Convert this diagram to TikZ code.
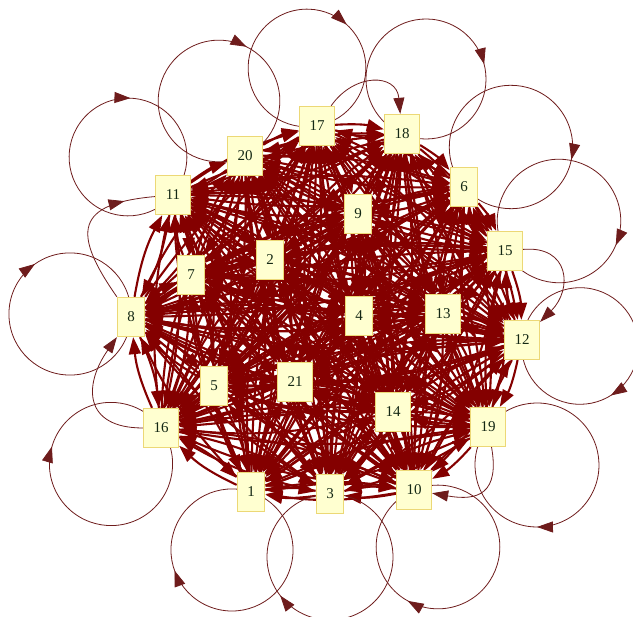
\documentclass[tikz,border=0pt]{standalone}
\usepackage{fontspec}
\setmainfont{Liberation Serif}
\usetikzlibrary{arrows.meta,calc,backgrounds,decorations.markings}
\definecolor{edgered}{RGB}{132,0,0}
\definecolor{loopred}{RGB}{110,28,28}
\definecolor{boxfill}{RGB}{255,255,208}
\definecolor{boxline}{RGB}{236,216,118}
\begin{document}
\begin{tikzpicture}[x=1pt,y=1pt,
  vtx/.style={draw=boxline,line width=1.3pt,fill=boxfill,rectangle,
    minimum width=27pt,minimum height=39pt,inner xsep=10pt,
    font=\fontsize{15}{17}\selectfont,text={rgb,255:red,20;green,40;blue,20}},
  edge/.style={edgered,line width=2.1pt,bend left=9,-{Triangle[length=17pt,width=12pt]}},
  loopline/.style={loopred,line width=0.8pt},
  midarrow/.style={postaction=decorate,decoration={markings,
    mark=at position #1 with {\arrow{Triangle[length=16pt,width=11pt]}}}},
  selfloop/.style={loopline,midarrow=0.645},
  arcedge/.style={loopline,-{Triangle[length=16pt,width=11pt]}}]
\useasboundingbox (0,0) rectangle (633,617);
\node[vtx] (v17) at (317,491) {17};
\node[vtx] (v18) at (402,483) {18};
\node[vtx] (v20) at (245,461) {20};
\node[vtx] (v6) at (464,430) {6};
\node[vtx] (v11) at (173,422) {11};
\node[vtx] (v9) at (358,403) {9};
\node[vtx] (v15) at (505,366) {15};
\node[vtx] (v2) at (270,357) {2};
\node[vtx] (v7) at (191,342) {7};
\node[vtx] (v8) at (131,300) {8};
\node[vtx] (v4) at (359,301) {4};
\node[vtx] (v13) at (443,303) {13};
\node[vtx] (v12) at (522,277) {12};
\node[vtx] (v5) at (214,231) {5};
\node[vtx] (v21) at (295,235) {21};
\node[vtx] (v14) at (393,205) {14};
\node[vtx] (v16) at (161,189) {16};
\node[vtx] (v19) at (488,190) {19};
\node[vtx] (v1) at (251,125) {1};
\node[vtx] (v3) at (330,123) {3};
\node[vtx] (v10) at (414,127) {10};
\begin{scope}[on background layer]
\foreach \i in {1,...,21}
  \foreach \j in {1,...,21}
    {\ifnum\i=\j\else\draw[edge] (v\i) to (v\j);\fi}
\foreach \k/\cx/\cy in {17/307/549,20/219/516,11/128/460,8/70/303,16/111/153,
    1/232/67,3/330/60,10/438/70,19/537/152,12/580/271,15/559/396,6/511/470,18/426/538}
  \draw[selfloop] let \p1=($(v\k)-(\cx,\cy)$) in
    (v\k.center) arc[start angle={atan2(\y1,\x1)},delta angle=-360,radius={veclen(\x1,\y1)}];
\draw[loopline,midarrow=0.8] (v8) to[out=125,in=185,looseness=1.9] (v11);
\draw[arcedge] (v16) to[out=180,in=235,looseness=1.6] (v8);
\draw[arcedge] (v19) to[out=-80,in=-10,looseness=1.6] (v10);
\draw[arcedge] (v15) to[out=5,in=45,looseness=1.6] (v12);
\draw[arcedge] (v17) to[out=55,in=95,looseness=1.5] (v18);
\end{scope}
\end{tikzpicture}
\end{document}
